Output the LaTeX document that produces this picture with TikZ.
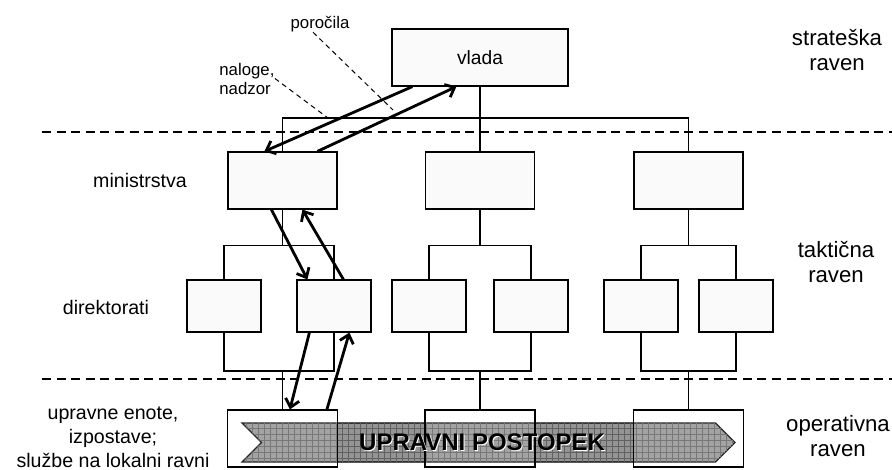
\documentclass[tikz,border=0pt]{standalone}
\usepackage{fontspec}
\setmainfont{Liberation Sans}
\usetikzlibrary{arrows.meta,shapes.symbols,patterns}
\definecolor{boxfill}{RGB}{250,250,250}

\begin{document}
\begin{tikzpicture}[x=0.5pt,y=-0.5pt,
        unit/.style={draw, line width=0.6pt, fill=boxfill, inner sep=0pt},
        topbox/.style={unit, minimum width=88pt, minimum height=28.5pt},
        minbox/.style={unit, minimum width=54.5pt, minimum height=28.5pt},
        dirbox/.style={unit, minimum width=37pt, minimum height=26pt},
        opsbox/.style={draw, line width=0.6pt, fill=white, fill opacity=0.15, minimum width=55pt, minimum height=28.5pt, inner sep=0pt},
        link/.style={line width=0.6pt},
        flow/.style={line width=1.4pt, -{Straight Barb[length=4pt,width=7pt]}},
        level/.style={font=\fontsize{11.1}{12.5}\selectfont, align=center},
        side/.style={font=\fontsize{9.8}{12}\selectfont, align=center},
        note/.style={font=\fontsize{8.4}{9.5}\selectfont, align=left, inner sep=0pt},
        sep/.style={line width=0.8pt, dash pattern=on 4.5pt off 2.8pt},
        lead/.style={line width=0.5pt, dash pattern=on 2.5pt off 2pt}]
            \useasboundingbox (0,0) rectangle (892,470);

            % raven borders
            \draw[sep] (42,132) -- (892,132);
            \draw[sep] (42,379) -- (892,379);

            \node[topbox, font=\fontsize{9.6}{11}\selectfont] (vlada) at (480,57.5) {vlada};

            % upravni postopek
            \node[shape=signal, signal from=west, signal to=east, minimum width=246.5pt, minimum height=19.5pt,
                inner sep=0pt, draw, line width=0.6pt, fill=black!42,
                postaction={pattern=grid, pattern color=black!62}]
                (proc) at (488.5,442.5) {};

            \foreach \i/\x/\l/\r in {1/282.5/224/334, 2/480/429/531, 3/688.5/641/736} {
                \node[minbox] (m\i) at (\x,180.5) {};
                \node[dirbox] (dl\i) at (\l,306) {};
                \node[dirbox] (dr\i) at (\r,306) {};
                \node[opsbox] (o\i) at (\x,438.5) {};
                \draw[link] (m\i.south) -- ++(0,35.5) coordinate (t\i);
                \draw[link] (dl\i.north) |- (t\i) -| (dr\i.north);
                \draw[link] (dl\i.south) |- (\x,371) coordinate (b\i) -| (dr\i.south);
                \draw[link] (b\i) -- (o\i.north);
            }

            \draw[link] (vlada.south) -- (m2.north);
            \draw[link] (m1.north) |- (480,118) coordinate (bus) -| (m3.north);

            \node[font=\bfseries\fontsize{12}{14}\selectfont, text=white] at ([xshift=-2.7pt,yshift=-0.6pt]proc.center) {UPRAVNI POSTOPEK};
            \node[font=\bfseries\fontsize{12}{14}\selectfont] (postopek) at ([xshift=-3.2pt]proc.center) {UPRAVNI POSTOPEK};

            % naloge and porocila
            \draw[flow] ([xshift=10.5pt]vlada.south west) -- ([xshift=18.5pt]m1.north west);
            \draw[flow] ([xshift=45pt]m1.north west) -- ([xshift=32.5pt]vlada.south west);
            \draw[flow] ([xshift=22pt]m1.south west) -- ([xshift=5.5pt]dr1.north west);
            \draw[flow] ([xshift=23.5pt]dr1.north west) -- ([xshift=37.5pt]m1.south west);
            \draw[flow] ([xshift=6.5pt]dr1.south west) -- ([xshift=31.5pt]o1.north west);
            \draw[flow] ([xshift=50pt]o1.north west) -- ([xshift=26.5pt]dr1.south west);

            \node[note] (poro) at (320,24) {poročila};
            \node[note, anchor=west] (nal) at (219,78.5) {naloge,\\nadzor};
            \coordinate (pr) at (393,110);
            \coordinate (nl) at (328,118);
            \draw[lead] ([xshift=-3.5pt]poro.south) -- (pr);
            \draw[lead] (nal.east) -- (nl);

            \node[side] (lmin) at (140,180) {ministrstva};
            \node[side] (ldir) at (106,307) {direktorati};
            \node[side] (lops) at (113,437) {upravne enote,\\izpostave;\\službe na lokalni ravni};

            \node[level] (lstr) at (837,50) {strateška\\raven};
            \node[level] (ltak) at (836,262) {taktična\\raven};
            \node[level] (lop) at (838,436) {operativna\\raven};
        \end{tikzpicture}
\end{document}
